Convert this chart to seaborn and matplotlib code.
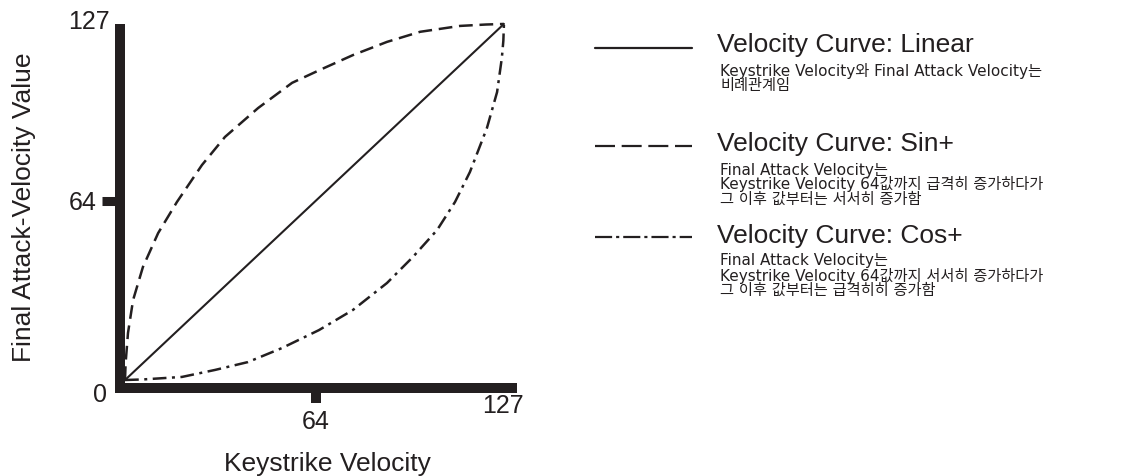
import numpy as np
import pandas as pd
import matplotlib
matplotlib.use('Agg')
import matplotlib.pyplot as plt
from matplotlib.lines import Line2D
import seaborn as sns

# points: keystrike velocity -> final attack velocity
linear_x = [0, 127]
linear_y = [0, 127]

sin_x = [0, 0.2, 1.0, 2.7, 6.0, 11.1, 17.4, 25.8, 33.5, 44.6, 56.0, 65.3, 76.4, 87.8, 98.9, 112.3, 121.0, 127]
sin_y = [0, 6.0, 16.8, 28.5, 40.3, 52.4, 63.5, 76.7, 86.7, 97.0, 106.0, 110.6, 115.9, 120.6, 124.2, 126.3, 126.8, 127]

cos_x = [0, 6.0, 19.1, 30.2, 41.2, 52.6, 65.0, 76.4, 87.8, 96.5, 104.6, 110.6, 115.6, 121.3, 124.7, 126.3, 126.8, 127]
cos_y = [0, 0.2, 1.1, 3.6, 6.4, 11.4, 17.8, 25.0, 34.6, 43.9, 53.5, 63.5, 74.2, 89.9, 102.7, 114.9, 121.0, 127]

curve_names = ['Linear', 'Sin+', 'Cos+']
x_ticks = [64]
y_ticks = [64]
axis_max = 127

legend_titles = ['Velocity Curve: Linear', 'Velocity Curve: Sin+', 'Velocity Curve: Cos+']
legend_notes = [
    ['Keystrike Velocity와 Final Attack Velocity는', '비례관계임'],
    ['Final Attack Velocity는', 'Keystrike Velocity 64값까지 급격히 증가하다가', '그 이후 값부터는 서서히 증가함'],
    ['Final Attack Velocity는', 'Keystrike Velocity 64값까지 서서히 증가하다가', '그 이후 값부터는 급격히히 증가함'],
]

df = pd.concat([
    pd.DataFrame({'x': linear_x, 'y': linear_y, 'curve': 'Linear'}),
    pd.DataFrame({'x': sin_x, 'y': sin_y, 'curve': 'Sin+'}),
    pd.DataFrame({'x': cos_x, 'y': cos_y, 'curve': 'Cos+'}),
], ignore_index=True)

sns.set_style('white')
plt.rcParams['font.family'] = ['Liberation Sans', 'Noto Sans CJK KR']

ink = '#231f20'
W, H = 1126, 476


def fx(px):
    return px / W


def fy(py):
    return 1 - py / H


fig = plt.figure(figsize=(W / 100, H / 100), dpi=100)
ax = fig.add_axes([fx(120), fy(388), fx(512) - fx(120), fy(29) - fy(388)])

plot_dashes = {'Linear': '', 'Sin+': (5.5, 2.7), 'Cos+': (5.5, 2.2, 1.2, 2.2)}
sns.lineplot(data=df, x='x', y='y', style='curve', style_order=curve_names,
             dashes=plot_dashes, color=ink, linewidth=1.8, estimator=None,
             sort=False, legend=False, clip_on=False, ax=ax)
ax.lines[0].set_linewidth(1.5)

ax.set_xlim(-1.68, 129.7)
ax.set_ylim(-2.85, 125.2)

for side in ['top', 'right']:
    ax.spines[side].set_visible(False)
for side in ['left', 'bottom']:
    ax.spines[side].set_linewidth(7.2)
    ax.spines[side].set_color(ink)
    ax.spines[side].set_capstyle('projecting')
    ax.spines[side].set_zorder(3)

ax.set_xticks(x_ticks, [str(t) for t in x_ticks])
ax.set_yticks(y_ticks, [str(t) for t in y_ticks])
ax.tick_params(axis='x', bottom=True, direction='out', length=10.8, width=7.2, pad=5,
               color=ink, labelcolor=ink, labelsize=18)
ax.tick_params(axis='y', left=True, direction='out', length=13, width=6.5, pad=3.6,
               color=ink, labelcolor=ink, labelsize=18)

# corner labels
ax.text(-8.4, -5.35, '0', ha='center', va='center', fontsize=18, color=ink, clip_on=False)
ax.text(126.7, -9.3, str(axis_max), ha='center', va='center', fontsize=18, color=ink, clip_on=False)
ax.text(-5.0, 127.7, str(axis_max), ha='right', va='center', fontsize=18, color=ink, clip_on=False)

ax.set_xlabel('Keystrike Velocity', fontsize=19, color=ink)
ax.xaxis.set_label_coords(0.528, -0.178)
ax.set_ylabel('Final Attack-Velocity Value', fontsize=19, color=ink)
ax.yaxis.set_label_coords(-0.215, 0.504)

# legend block on the right
legend_dashes = {'Linear': None, 'Sin+': (9, 3), 'Cos+': (7.7, 1.8, 1.4, 1.8)}
sample_y = [48, 146, 237]
title_y = [45, 144, 236]
note_y0 = [71, 170, 261]
note_step = 14.5

for name, sy, ty, ny, title, notes in zip(curve_names, sample_y, title_y, note_y0,
                                          legend_titles, legend_notes):
    line = Line2D([fx(595), fx(692)], [fy(sy), fy(sy)], transform=fig.transFigure,
                  color=ink, linewidth=1.6)
    if legend_dashes[name] is not None:
        line.set_dashes(legend_dashes[name])
    fig.add_artist(line)
    fig.text(fx(717), fy(ty), title, ha='left', va='center', fontsize=19, color=ink)
    for i, note in enumerate(notes):
        fig.text(fx(720), fy(ny + i * note_step), note, ha='left', va='center',
                 fontsize=11, color=ink, family=['DejaVu Sans', 'Noto Sans CJK KR'])

fig.savefig('out.png', dpi=100)
